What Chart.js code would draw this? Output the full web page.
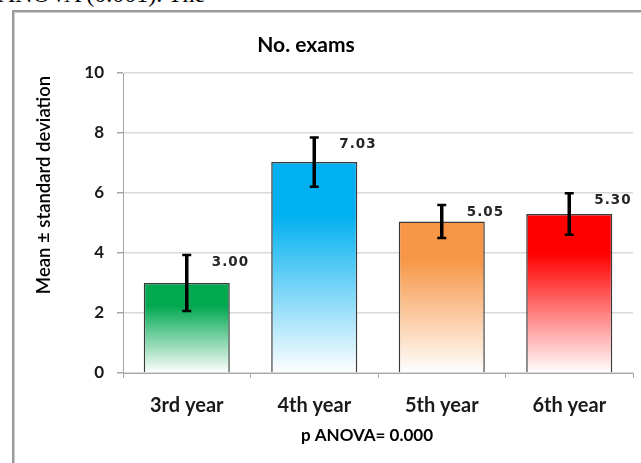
<!DOCTYPE html>
<html><head><meta charset="utf-8">
<script src="https://cdn.jsdelivr.net/npm/chart.js@4"></script>
<style>
html,body{margin:0;padding:0;background:#fff;overflow:hidden;width:641px;height:463px;}
#doc{position:absolute;left:-2px;top:-19px;font-family:"Liberation Serif",serif;font-size:24px;color:#000;white-space:nowrap;}
#frame{position:absolute;left:12px;top:10px;width:700px;height:500px;border-left:2px solid #9a9a9a;border-top:2px solid #9a9a9a;box-shadow:inset 1px 1px 0 #d0d0d0;}
#wrap{position:absolute;left:0;top:0;width:641px;height:463px;}
</style></head>
<body>
<div id="doc">ANOVA (0.001). The</div>
<div id="frame"></div>
<div id="wrap"><canvas id="c" width="641" height="463"></canvas></div>
<script>
const categories = ["3rd year", "4th year", "5th year", "6th year"];
const means = [3.00, 7.03, 5.05, 5.30];
const sds = [0.93, 0.82, 0.55, 0.69];
const valueLabels = ["3.00", "7.03", "5.05", "5.30"];
const barColors = ["#00a850", "#00b0f0", "#f79646", "#ff0000"];
const yTicks = [0, 2, 4, 6, 8, 10];
const chartTitle = "No. exams";
const yTitle = "Mean \u00b1 standard deviation";
const xTitle = "p ANOVA= 0.000";

function grad(ctx){
  const chart = ctx.chart;
  const ys = chart.scales.y;
  const c = barColors[ctx.dataIndex] || barColors[0];
  if(!ys || ctx.dataIndex === undefined) return c;
  const top = ys.getPixelForValue(means[ctx.dataIndex]), bot = ys.getPixelForValue(0);
  if(!isFinite(top) || !isFinite(bot) || top === bot) return c;
  const g = chart.ctx.createLinearGradient(0, top, 0, bot);
  g.addColorStop(0, c);
  g.addColorStop(0.25, c);
  g.addColorStop(1, "#ffffff");
  return g;
}

const extras = {
  id: "extras",
  afterDatasetsDraw(chart){
    const ctx = chart.ctx, x = chart.scales.x, y = chart.scales.y;
    ctx.save();
    ctx.strokeStyle = "#000";
    for(let i=0;i<means.length;i++){
      const cx = x.getPixelForValue(i);
      const yt = y.getPixelForValue(means[i]+sds[i]);
      const yb = y.getPixelForValue(means[i]-sds[i]);
      ctx.lineWidth = 3.5;
      ctx.beginPath(); ctx.moveTo(cx, yt); ctx.lineTo(cx, yb); ctx.stroke();
      ctx.lineWidth = 2.5;
      ctx.beginPath(); ctx.moveTo(cx-4.5, yt); ctx.lineTo(cx+4.5, yt);
      ctx.moveTo(cx-4.5, yb); ctx.lineTo(cx+4.5, yb); ctx.stroke();
      ctx.fillStyle = "#262626";
      ctx.font = "bold 13.5px 'DejaVu Sans'";
      ctx.letterSpacing = "1px";
      ctx.textAlign = "left"; ctx.textBaseline = "middle";
      ctx.fillText(valueLabels[i], cx+25, yt+7);
    }
    ctx.letterSpacing = "0px";
    ctx.fillStyle = "#000";
    ctx.textAlign = "center"; ctx.textBaseline = "middle";
    ctx.font = "bold 21px Lato";
    ctx.fillText(chartTitle, 306, 45);
    ctx.font = "bold 17px Lato";
    ctx.fillText(xTitle, 367, 436);
    ctx.save();
    ctx.translate(44, 185);
    ctx.rotate(-Math.PI/2);
    ctx.font = "600 18.5px Lato";
    ctx.fillText(yTitle, 0, 0);
    ctx.restore();
    ctx.restore();
  }
};

new Chart(document.getElementById("c"), {
  type: "bar",
  data: {
    labels: categories,
    datasets: [{
      data: means,
      backgroundColor: grad,
      borderColor: "#3a3a3a",
      borderWidth: 1.5,
      categoryPercentage: 0.675,
      barPercentage: 1.0
    }]
  },
  options: {
    responsive: false,
    animation: false,
    layout: { padding: { left: 0, top: 73, right: 8, bottom: 0 } },
    plugins: { legend: { display: false }, tooltip: { enabled: false }, title: { display: false } },
    scales: {
      x: {
        grid: { drawOnChartArea: false, drawTicks: true, tickLength: 5, offset: true, color: "#a6a6a6" },
        border: { color: "#a6a6a6", width: 1 },
        ticks: { color: "#1a1a1a", font: { family: "Lato", size: 20, weight: "bold" }, padding: 16 },
        afterFit(s){ s.height = 90; }
      },
      y: {
        min: 0, max: 10,
        afterBuildTicks(s){ s.ticks = yTicks.map(v => ({ value: v })); },
        grid: { color: "#d9d9d9", lineWidth: 1.5, tickLength: 6, tickColor: "#a6a6a6" },
        border: { color: "#a6a6a6", width: 1 },
        ticks: { color: "#1a1a1a", font: { family: "Lato", size: 17, weight: "bold" }, padding: 13 },
        afterFit(s){ s.width = 123; }
      }
    }
  },
  plugins: [extras]
});
</script>
</body></html>
